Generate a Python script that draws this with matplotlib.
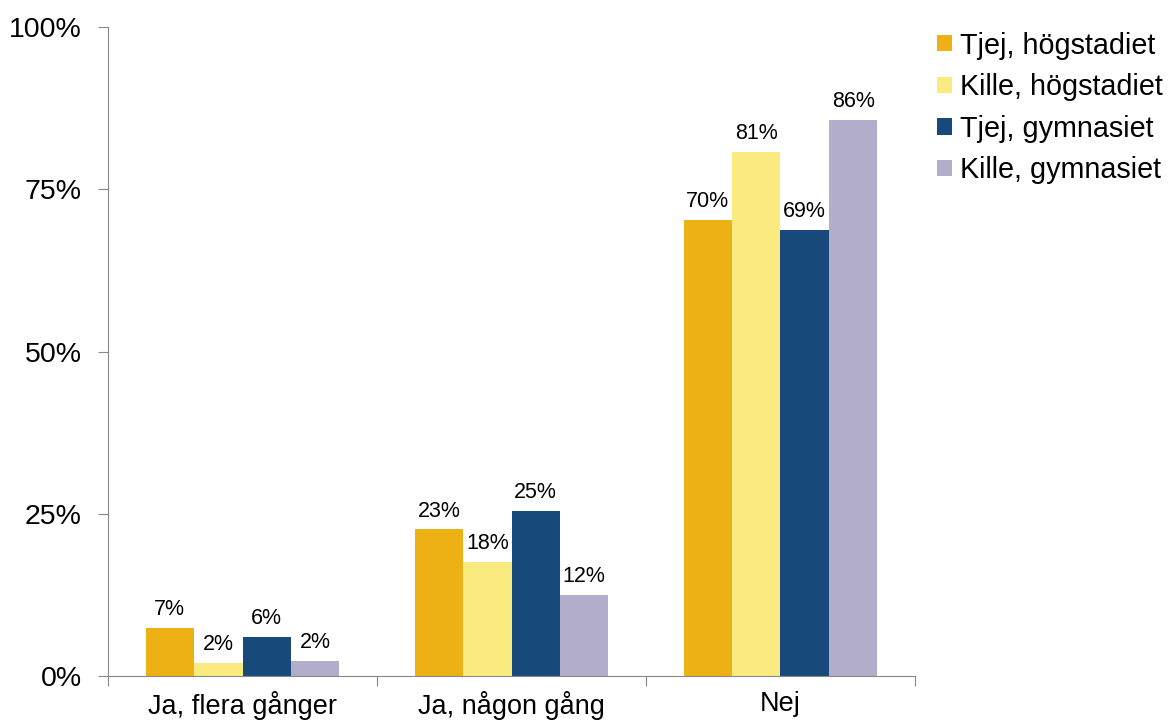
import matplotlib
matplotlib.use("Agg")
import matplotlib.pyplot as plt
import numpy as np

categories = ["Ja, flera gånger", "Ja, någon gång", "Nej"]
series_names = ["Tjej, högstadiet", "Kille, högstadiet", "Tjej, gymnasiet", "Kille, gymnasiet"]
tjej_hog = [7.4, 22.6, 70.3]
kille_hog = [2.0, 17.6, 80.7]
tjej_gym = [6.0, 25.4, 68.7]
kille_gym = [2.3, 12.5, 85.7]
series_values = [tjej_hog, kille_hog, tjej_gym, kille_gym]
colors = ["#EDB115", "#F9EB80", "#17497A", "#B3ADCC"]
yticks = [0, 25, 50, 75, 100]

plt.rcParams['font.family'] = ['Liberation Sans', 'DejaVu Sans']

fig = plt.figure(figsize=(11.74, 7.2), dpi=100)
ax = fig.add_axes([108/1174, 44/720, (915-108)/1174, (676-27)/720])

x = np.arange(len(categories))
w = 0.18
for i, (name, vals, c) in enumerate(zip(series_names, series_values, colors)):
    pos = x + (i - 1.5) * w
    bars = ax.bar(pos, vals, width=w, color=c, label=name, zorder=2)
    for b, v in zip(bars, vals):
        ax.text(b.get_x() + b.get_width()/2, v + 1.2, f"{round(v):.0f}%",
                ha='center', va='bottom', fontsize=15.5)

ax.set_xlim(-0.5, 2.5)
ax.set_ylim(0, 100)
ax.set_yticks(yticks)
ax.set_yticklabels([f"{t}%" for t in yticks], fontsize=20.5)
ax.set_xticks([-0.5, 0.5, 1.5, 2.5])
ax.set_xticklabels([])
ax.set_xticks(x, minor=True)
ax.set_xticklabels(categories, minor=True, fontsize=19.5)
ax.tick_params(axis='x', which='minor', length=0, pad=11)
ax.tick_params(axis='x', which='major', length=7, color='#888888')
ax.tick_params(axis='y', length=7, color='#888888', pad=12)
for s in ['top', 'right']:
    ax.spines[s].set_visible(False)
for s in ['left', 'bottom']:
    ax.spines[s].set_color('#888888')

leg = fig.legend(loc='upper left', bbox_to_anchor=(926/1174, 1 - 20/720), frameon=False,
                 fontsize=20.7, handlelength=0.5, handleheight=0.5, handletextpad=0.3,
                 labelspacing=0.47, borderaxespad=0)

fig.savefig("out.png", dpi=100)
